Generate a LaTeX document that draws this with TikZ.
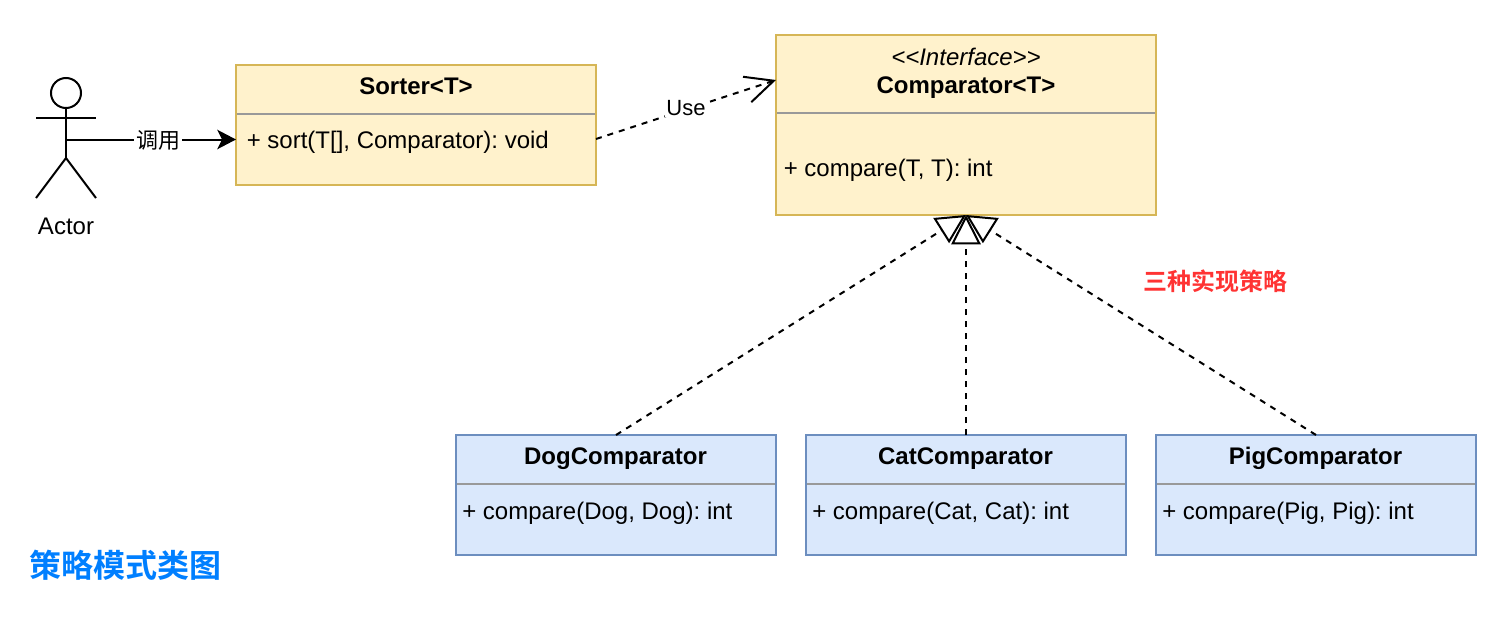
\documentclass[tikz,border=0pt]{standalone}
\usepackage{fontspec}
\setmainfont{Liberation Sans}
\newfontfamily\cjk{Noto Sans CJK SC}
\newfontfamily\cjkb{Noto Sans CJK SC Bold}
\usetikzlibrary{arrows.meta,calc}
\definecolor{yfill}{HTML}{FFF2CC}
\definecolor{ydraw}{HTML}{D6B656}
\definecolor{bfill}{HTML}{DAE8FC}
\definecolor{bdraw}{HTML}{6C8EBF}
\definecolor{sepgray}{HTML}{999999}
\definecolor{titleblue}{HTML}{007FFF}
\definecolor{notered}{HTML}{FF3333}
\frenchspacing
\tikzset{
  x=0.75pt,y=-0.75pt,
  umlbox/.style={draw,line width=1.5pt,outer sep=0pt,inner sep=0pt,anchor=north west},
  yellowbox/.style={umlbox,fill=yfill,draw=ydraw},
  bluebox/.style={umlbox,fill=bfill,draw=bdraw,minimum width=240pt,minimum height=90pt},
  sep/.style={draw=sepgray,line width=1.5pt},
  txt/.style={font=\fontsize{18pt}{21pt}\selectfont,inner sep=0pt,text=black},
  title/.style={txt,font=\fontsize{18pt}{21pt}\selectfont\bfseries,anchor=base},
  member/.style={txt,anchor=base west},
  stick/.style={draw=black,line width=1.5pt},
  dashline/.style={draw=black,line width=1.5pt,dash pattern=on 4.5pt off 4.5pt},
  realize/.style={dashline,-{Triangle[open,fill=white,length=22pt,width=22pt]}},
  usesline/.style={dashline,-{Straight Barb[length=21pt,width=20pt]}},
  callline/.style={draw=black,line width=1.5pt,-{Stealth[length=14pt,width=14.5pt,inset=3.5pt]}},
}
\begin{document}
\begin{tikzpicture}
\useasboundingbox[fill=white] (0,0) rectangle (1512,632);

% classes
\node[yellowbox,minimum width=270pt,minimum height=90pt] (sorter) at (236,65) {};
\node[yellowbox,minimum width=285pt,minimum height=135pt] (comp) at (776,35) {};
\node[bluebox] (dog) at (456,435) {};
\node[bluebox] (cat) at (806,435) {};
\node[bluebox] (pig) at (1156,435) {};

% separators
\coordinate (sorterSepL) at (237,114); \coordinate (sorterSepR) at (595,114);
\coordinate (compSepL) at (777,113); \coordinate (compSepR) at (1155,113);
\coordinate (dogSepL) at (457,484); \coordinate (dogSepR) at (775,484);
\coordinate (catSepL) at (807,484); \coordinate (catSepR) at (1125,484);
\coordinate (pigSepL) at (1157,484); \coordinate (pigSepR) at (1475,484);
\draw[sep] (sorterSepL) -- (sorterSepR);
\draw[sep] (compSepL) -- (compSepR);
\draw[sep] (dogSepL) -- (dogSepR);
\draw[sep] (catSepL) -- (catSepR);
\draw[sep] (pigSepL) -- (pigSepR);

% class texts
\node[title] (sorterT) at (416,94) {Sorter<T>};
\node[member] (sorterM) at (246.5,148) {+ sort(T[], Comparator): void};
\node[txt,anchor=base] (compS) at (966,65) {\itshape <{}<Interface>{}>};
\node[title] (compT) at (966,93) {Comparator<T>};
\node[member] (compM) at (783.5,176) {+ compare(T, T): int};
\node[title] (dogT) at (615.5,464) {DogComparator};
\node[member] (dogM) at (462,519) {+ compare(Dog, Dog): int};
\node[title] (catT) at (965.5,464) {CatComparator};
\node[member] (catM) at (812,519) {+ compare(Cat, Cat): int};
\node[title] (pigT) at (1315.5,464) {PigComparator};
\node[member] (pigM) at (1162,519) {+ compare(Pig, Pig): int};

% actor
\node[draw=black,line width=1.5pt,circle,minimum size=22.5pt,inner sep=0pt,outer sep=0pt] (head) at (66,93) {};
\coordinate (hip) at (66,158);
\coordinate (armL) at (36,118); \coordinate (armR) at (96,118);
\coordinate (legL) at (36,198); \coordinate (legR) at (96,198);
\coordinate (actorPort) at (66,139.5);
\draw[stick] (head.south) -- (hip);
\draw[stick] (armL) -- (armR);
\draw[stick] (legL) -- (hip) -- (legR);
\node[txt,anchor=base] (actorL) at (66,234) {Actor};

% connectors
\coordinate (sorterIn) at (236,139.5);
\coordinate (sorterOut) at (596,139);
\coordinate (compIn) at (776,80);
\draw[callline] (actorPort) -- (sorterIn);
\node[txt,fill=white,inner xsep=1.5pt,inner ysep=1pt,font=\fontsize{16.5pt}{20pt}\cjk] (callL) at (158,140) {调用};
\draw[usesline] (sorterOut) -- (compIn);
\node[txt,fill=white,inner xsep=1pt,inner ysep=1pt,font=\fontsize{16.5pt}{20pt}\selectfont] (useL) at (686,108) {Use};
\draw[realize] (dog.north) -- (comp.south);
\draw[realize] (pig.north) -- (comp.south);
\draw[realize] (cat.north) -- (comp.south);

% free notes
\node[inner sep=0pt,text=notered,font=\fontsize{18pt}{22pt}\cjkb] (noteL) at (1215,281) {三种实现策略};
\node[inner sep=0pt,text=titleblue,font=\fontsize{24pt}{29pt}\cjkb] (titleL) at (125,565) {策略模式类图};
\end{tikzpicture}
\end{document}
